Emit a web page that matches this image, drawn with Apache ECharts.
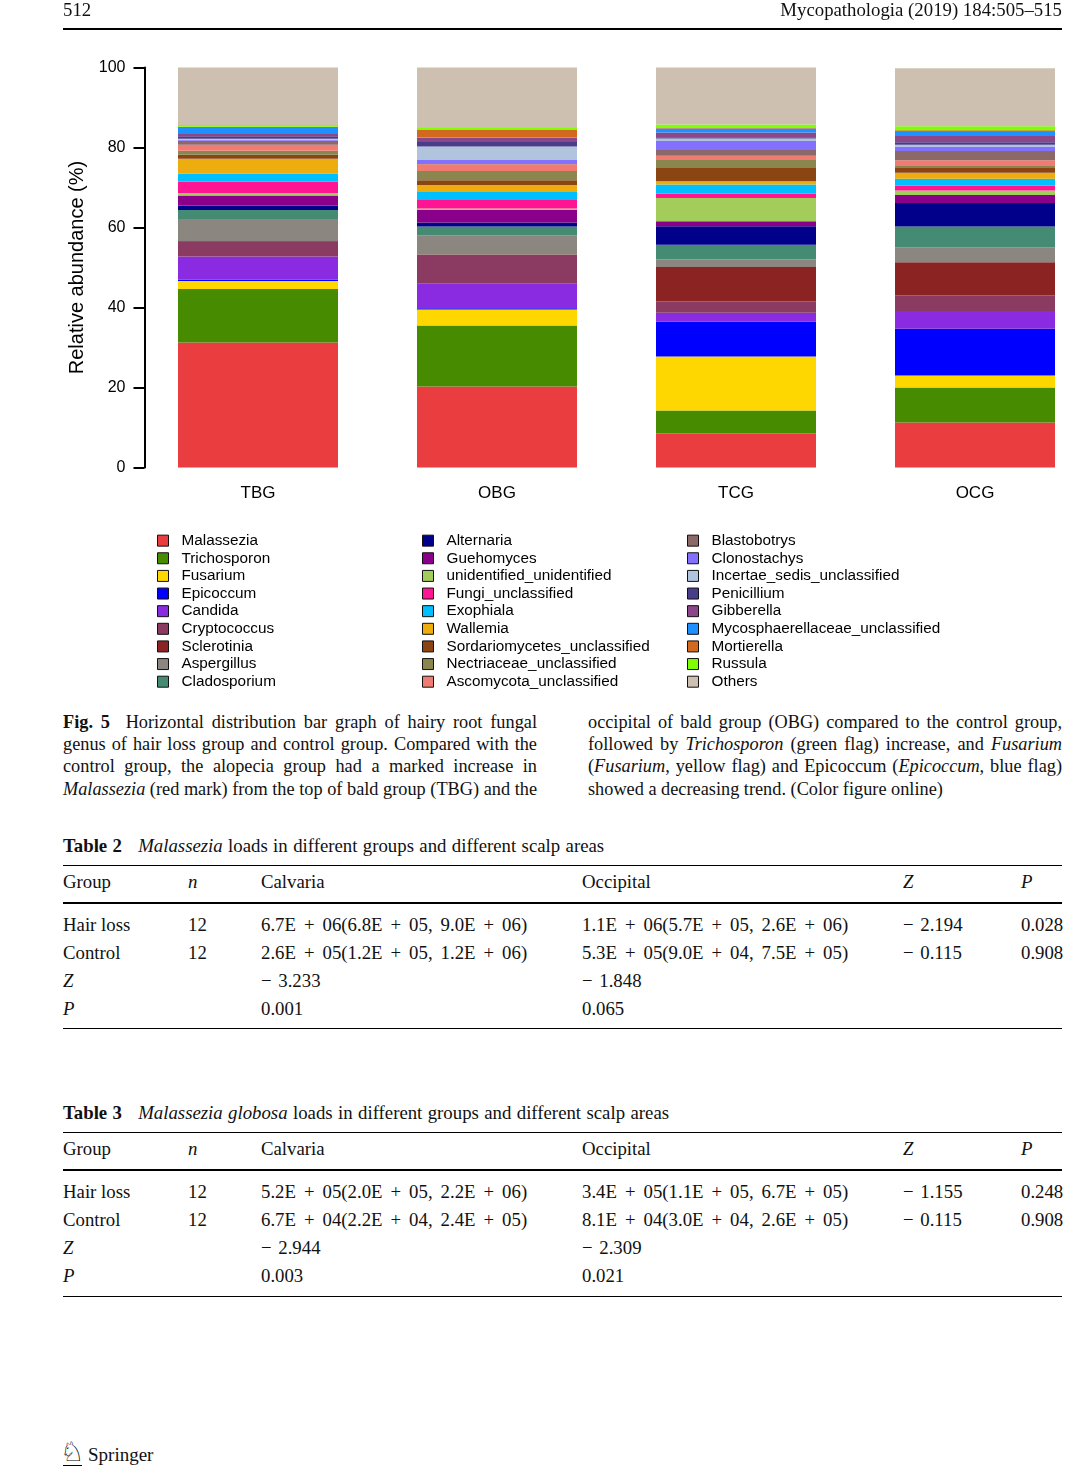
<!DOCTYPE html>
<html>
<head>
<meta charset="utf-8">
<script src="https://cdn.jsdelivr.net/npm/echarts@6/dist/echarts.min.js"></script>
<style>
  html, body { margin: 0; padding: 0; background: #fff; }
  body { width: 1080px; height: 1483px; position: relative; overflow: hidden;
         font-family: "Liberation Serif", "Times New Roman", serif; color: #111; }
  #chart { position: absolute; left: 0; top: 0; width: 1100px; height: 700px; }
  .t { position: absolute; white-space: nowrap; font-size: 18.8px; line-height: 22px; }
  .m { word-spacing: 3.3px; }
  .z { word-spacing: 2px; }
  .ttl { word-spacing: 0.7px; }
  .hl { position: absolute; left: 63px; width: 999px; background: #000; }
  .cap { position: absolute; font-size: 18.3px; line-height: 22px; text-align: justify; text-align-last: justify; }
  .capl { left: 63px; width: 474px; }
  .capr { left: 588px; width: 474px; }
  .last { text-align-last: left; }
</style>
</head>
<body>
<div id="chart"></div>

<!-- running header -->
<div class="t" style="left:63px; top:-1px;">512</div>
<div class="t" style="right:18px; top:-1px;">Mycopathologia (2019) 184:505–515</div>
<div class="hl" style="top:28px; height:2px;"></div>

<!-- caption -->
<div class="cap capl" style="top:711px;"><b>Fig. 5</b>&nbsp; Horizontal distribution bar graph of hairy root fungal</div>
<div class="cap capl" style="top:733px;">genus of hair loss group and control group. Compared with the</div>
<div class="cap capl" style="top:755px;">control group, the alopecia group had a marked increase in</div>
<div class="cap capl" style="top:778px;"><i>Malassezia</i> (red mark) from the top of bald group (TBG) and the</div>
<div class="cap capr" style="top:711px;">occipital of bald group (OBG) compared to the control group,</div>
<div class="cap capr" style="top:733px;">followed by <i>Trichosporon</i> (green flag) increase, and <i>Fusarium</i></div>
<div class="cap capr" style="top:755px;">(<i>Fusarium</i>, yellow flag) and Epicoccum (<i>Epicoccum</i>, blue flag)</div>
<div class="cap capr last" style="top:778px;">showed a decreasing trend. (Color figure online)</div>

<!-- Table 2 -->
<div class="t ttl" style="left:63px; top:835px;"><b>Table 2</b>&nbsp;&nbsp; <i>Malassezia</i> loads in different groups and different scalp areas</div>
<div class="hl" style="top:865px; height:1px;"></div>
<div class="t" style="left:63px; top:871px;">Group</div>
<div class="t" style="left:188px; top:871px;"><i>n</i></div>
<div class="t" style="left:261px; top:871px;">Calvaria</div>
<div class="t" style="left:582px; top:871px;">Occipital</div>
<div class="t" style="left:903px; top:871px;"><i>Z</i></div>
<div class="t" style="left:1021px; top:871px;"><i>P</i></div>
<div class="hl" style="top:902px; height:2px;"></div>
<div class="t" style="left:63px; top:914px;">Hair loss</div>
<div class="t" style="left:188px; top:914px;">12</div>
<div class="t m" style="left:261px; top:914px;">6.7E + 06(6.8E + 05, 9.0E + 06)</div>
<div class="t m" style="left:582px; top:914px;">1.1E + 06(5.7E + 05, 2.6E + 06)</div>
<div class="t z" style="left:903px; top:914px;">− 2.194</div>
<div class="t" style="left:1021px; top:914px;">0.028</div>
<div class="t" style="left:63px; top:942px;">Control</div>
<div class="t" style="left:188px; top:942px;">12</div>
<div class="t m" style="left:261px; top:942px;">2.6E + 05(1.2E + 05, 1.2E + 06)</div>
<div class="t m" style="left:582px; top:942px;">5.3E + 05(9.0E + 04, 7.5E + 05)</div>
<div class="t z" style="left:903px; top:942px;">− 0.115</div>
<div class="t" style="left:1021px; top:942px;">0.908</div>
<div class="t" style="left:63px; top:970px;"><i>Z</i></div>
<div class="t z" style="left:261px; top:970px;">− 3.233</div>
<div class="t z" style="left:582px; top:970px;">− 1.848</div>
<div class="t" style="left:63px; top:998px;"><i>P</i></div>
<div class="t" style="left:261px; top:998px;">0.001</div>
<div class="t" style="left:582px; top:998px;">0.065</div>
<div class="hl" style="top:1028px; height:1px;"></div>

<!-- Table 3 -->
<div class="t ttl" style="left:63px; top:1102px;"><b>Table 3</b>&nbsp;&nbsp; <i>Malassezia globosa</i> loads in different groups and different scalp areas</div>
<div class="hl" style="top:1132px; height:1px;"></div>
<div class="t" style="left:63px; top:1138px;">Group</div>
<div class="t" style="left:188px; top:1138px;"><i>n</i></div>
<div class="t" style="left:261px; top:1138px;">Calvaria</div>
<div class="t" style="left:582px; top:1138px;">Occipital</div>
<div class="t" style="left:903px; top:1138px;"><i>Z</i></div>
<div class="t" style="left:1021px; top:1138px;"><i>P</i></div>
<div class="hl" style="top:1169px; height:2px;"></div>
<div class="t" style="left:63px; top:1181px;">Hair loss</div>
<div class="t" style="left:188px; top:1181px;">12</div>
<div class="t m" style="left:261px; top:1181px;">5.2E + 05(2.0E + 05, 2.2E + 06)</div>
<div class="t m" style="left:582px; top:1181px;">3.4E + 05(1.1E + 05, 6.7E + 05)</div>
<div class="t z" style="left:903px; top:1181px;">− 1.155</div>
<div class="t" style="left:1021px; top:1181px;">0.248</div>
<div class="t" style="left:63px; top:1209px;">Control</div>
<div class="t" style="left:188px; top:1209px;">12</div>
<div class="t m" style="left:261px; top:1209px;">6.7E + 04(2.2E + 04, 2.4E + 05)</div>
<div class="t m" style="left:582px; top:1209px;">8.1E + 04(3.0E + 04, 2.6E + 05)</div>
<div class="t z" style="left:903px; top:1209px;">− 0.115</div>
<div class="t" style="left:1021px; top:1209px;">0.908</div>
<div class="t" style="left:63px; top:1237px;"><i>Z</i></div>
<div class="t z" style="left:261px; top:1237px;">− 2.944</div>
<div class="t z" style="left:582px; top:1237px;">− 2.309</div>
<div class="t" style="left:63px; top:1265px;"><i>P</i></div>
<div class="t" style="left:261px; top:1265px;">0.003</div>
<div class="t" style="left:582px; top:1265px;">0.021</div>
<div class="hl" style="top:1296px; height:1px;"></div>

<!-- footer -->
<div class="t" style="left:60px; top:1437px; font-size:27px; line-height:30px; font-family:'DejaVu Sans'; color:#000;">♘</div>
<div class="hl" style="top:1465px; left:63px; width:19px; height:1px;"></div>
<div class="t" style="left:88px; top:1444px; font-size:19px;">Springer</div>

<script>
// ---- data ----
const groups = ['TBG', 'OBG', 'TCG', 'OCG'];
const yTicks = [0, 20, 40, 60, 80, 100];

const Malassezia                    = [31.25, 20.25, 8.5, 11.25];
const Trichosporon                  = [13.4, 15.25, 5.75, 8.75];
const Fusarium                      = [2.0, 4.0, 13.5, 3.0];
const Epicoccum                     = [0.3, 0.3, 8.75, 11.7];
const Candida                       = [5.8, 6.25, 2.2, 4.4];
const Cryptococcus                  = [3.7, 7.1, 2.8, 3.9];
const Sclerotinia                   = [0.2, 0.1, 8.6, 8.3];
const Aspergillus                   = [5.5, 4.8, 1.9, 3.75];
const Cladosporium                  = [2.25, 2.2, 3.7, 5.2];
const Alternaria                    = [1.1, 1.0, 4.6, 5.9];
const Guehomyces                    = [2.5, 3.1, 1.25, 2.0];
const unidentified_unidentified     = [0.6, 0.4, 5.8, 1.1];
const Fungi_unclassified            = [2.9, 2.3, 1.1, 1.25];
const Exophiala                     = [2.0, 1.8, 2.3, 1.7];
const Wallemia                      = [3.7, 1.75, 0.8, 1.5];
const Sordariomycetes_unclassified  = [1.0, 1.2, 3.3, 1.2];
const Nectriaceae_unclassified      = [1.0, 2.3, 2.0, 0.5];
const Ascomycota_unclassified       = [1.5, 1.7, 1.1, 1.4];
const Blastobotrys                  = [1.0, 0.1, 1.4, 2.3];
const Clonostachys                  = [0.25, 1.1, 2.3, 1.0];
const Incertae_sedis_unclassified   = [0.25, 3.25, 0.6, 0.6];
const Penicillium                   = [0.6, 1.1, 0.3, 0.6];
const Gibberella                    = [0.6, 1.1, 1.2, 1.6];
const Mycosphaerellaceae_unclassified = [1.7, 0.1, 1.0, 1.0];
const Mortierella                   = [0.1, 1.8, 0.1, 0.4];
const Russula                       = [0.4, 0.5, 0.9, 1.0];
const Others                        = [14.65, 15.2, 14.25, 14.5];

const seriesNames = ['Malassezia','Trichosporon','Fusarium','Epicoccum','Candida','Cryptococcus','Sclerotinia','Aspergillus','Cladosporium',
  'Alternaria','Guehomyces','unidentified_unidentified','Fungi_unclassified','Exophiala','Wallemia','Sordariomycetes_unclassified','Nectriaceae_unclassified','Ascomycota_unclassified',
  'Blastobotrys','Clonostachys','Incertae_sedis_unclassified','Penicillium','Gibberella','Mycosphaerellaceae_unclassified','Mortierella','Russula','Others'];
const seriesValues = [Malassezia,Trichosporon,Fusarium,Epicoccum,Candida,Cryptococcus,Sclerotinia,Aspergillus,Cladosporium,
  Alternaria,Guehomyces,unidentified_unidentified,Fungi_unclassified,Exophiala,Wallemia,Sordariomycetes_unclassified,Nectriaceae_unclassified,Ascomycota_unclassified,
  Blastobotrys,Clonostachys,Incertae_sedis_unclassified,Penicillium,Gibberella,Mycosphaerellaceae_unclassified,Mortierella,Russula,Others];
const seriesColors = ['#E93D40','#468B00','#FFD700','#0000FF','#8A2BE2','#8B3A62','#8B2323','#8B8680','#458B74',
  '#00008B','#8B008B','#A2CD5A','#FF1493','#00BFFF','#EEAD0E','#8B4513','#8B864E','#F07B72',
  '#8B6969','#8470FF','#B0C4DE','#483D8B','#8B4789','#1E90FF','#D2691E','#7FFF00','#CDC0B0'];

const chart = echarts.init(document.getElementById('chart'), null, { renderer: 'canvas' });
const font = 'Liberation Sans, Arial, sans-serif';

function legendCol(names, left) {
  return {
    data: names, orient: 'vertical', left: left, top: 533, padding: 0,
    icon: 'rect', itemWidth: 11, itemHeight: 11, itemGap: 2.33,
    itemStyle: { borderColor: '#111', borderWidth: 1 },
    textStyle: { fontFamily: font, fontSize: 15.3, lineHeight: 15.3, color: '#000', padding: [0, 0, 0, 8] },
    selectedMode: false
  };
}

chart.setOption({
  animation: false,
  backgroundColor: '#fff',
  grid: { left: 138.5, right: 5.5, top: 67.5, height: 400 },
  xAxis: {
    type: 'category', data: groups,
    axisLine: { show: false }, axisTick: { show: false },
    axisLabel: { color: '#000', fontFamily: font, fontSize: 17, margin: 17 }
  },
  yAxis: {
    type: 'value', min: 0, max: 100, interval: 20, offset: -6,
    name: 'Relative abundance (%)', nameLocation: 'middle', nameGap: 57,
    nameTextStyle: { color: '#000', fontFamily: font, fontSize: 20 },
    axisLine: { show: true, lineStyle: { color: '#000', width: 2 } },
    axisTick: { show: true, inside: false, length: 11, lineStyle: { color: '#000', width: 2 } },
    axisLabel: { color: '#000', fontFamily: font, fontSize: 16, margin: 19,
      formatter: v => yTicks.includes(v) ? String(v) : '' },
    splitLine: { show: false }
  },
  legend: [
    legendCol(seriesNames.slice(0, 9), 157),
    legendCol(seriesNames.slice(9, 18), 422),
    legendCol(seriesNames.slice(18, 27), 687)
  ],
  series: seriesNames.map((n, i) => ({
    name: n, type: 'bar', stack: 'total', barWidth: 160,
    data: seriesValues[i],
    itemStyle: { color: seriesColors[i] }
  }))
});
</script>
</body>
</html>
